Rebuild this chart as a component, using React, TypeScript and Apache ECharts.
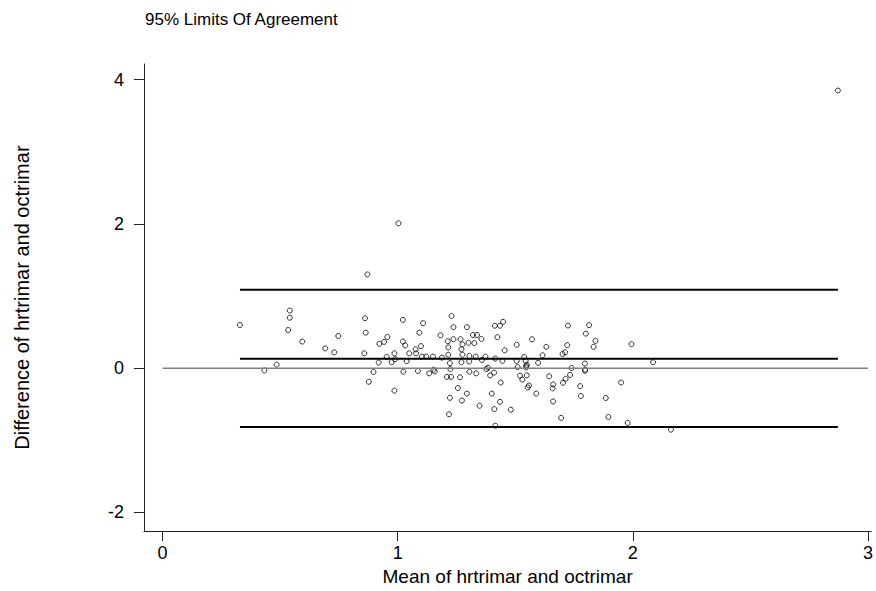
import React, { useEffect, useRef } from "react";
import * as echarts from "echarts";

// Mean of hrtrimar and octrimar (x) and their difference (y)
const meanValues: number[] = [
  0.329, 0.541, 0.541, 0.534, 0.594, 0.485, 0.433,
  0.871, 0.692, 0.730, 0.747, 0.861, 0.864, 0.858, 0.877, 0.897, 0.919,
  0.922, 0.942, 0.956, 0.953, 0.974, 0.986, 0.989, 0.986, 1.022, 1.022,
  1.032, 1.038, 1.024, 1.049, 1.076, 1.078, 1.086, 1.099, 1.092, 1.108,
  1.103, 1.121, 1.134, 1.150, 1.152, 1.157, 1.182, 1.188, 1.209, 1.213,
  1.215, 1.215, 1.222, 1.224, 1.227, 1.229, 1.237, 1.237, 1.222, 1.218,
  1.256, 1.265, 1.267, 1.275, 1.271, 1.275, 1.271, 1.273, 1.294, 1.294,
  1.301, 1.305, 1.305, 1.304, 1.320, 1.326, 1.332, 1.337, 1.334, 1.348,
  1.356, 1.358, 1.373, 1.377, 1.384, 1.400, 1.411, 1.410, 1.413, 1.415,
  1.415, 1.424,
  1.435, 1.448, 1.455, 1.506, 1.571, 1.632, 1.616, 1.597, 1.538, 1.544,
  1.549, 1.547, 1.546, 1.510, 1.506, 1.445, 1.393, 1.438, 1.435, 1.481,
  1.724, 1.814, 1.800, 1.841, 1.833, 1.721, 1.712, 1.701, 1.796, 1.797,
  1.797, 1.739, 1.733, 1.714, 1.703, 1.776, 1.779, 1.695, 1.661, 1.659,
  1.661, 1.644, 1.589, 1.558, 1.553, 1.530, 1.520, 1.549, 1.885, 1.896,
  1.978, 2.162, 1.950, 2.086, 1.994, 1.003, 2.872,
];

const diffValues: number[] = [
  0.60, 0.80, 0.70, 0.53, 0.37, 0.05, -0.03,
  1.30, 0.275, 0.22, 0.447, 0.693, 0.493, 0.207, -0.188, -0.052, 0.079,
  0.338, 0.365, 0.434, 0.157, 0.084, 0.207, 0.125, -0.311, 0.67, 0.37,
  0.316, 0.098, -0.048, 0.207, 0.262, 0.207, -0.038, 0.307, 0.493, 0.624,
  0.161, 0.161, -0.071, 0.161, -0.02, -0.044, 0.457, 0.147, -0.12, 0.375,
  0.289, 0.188, 0.071, -0.011, -0.12, 0.725, 0.57, 0.402, -0.41, -0.638,
  -0.275, -0.125, 0.402, 0.33, 0.262, 0.188, 0.084, -0.447, 0.57, -0.352,
  0.352, 0.17, -0.048, 0.093, 0.461, 0.348, 0.161, 0.461, -0.071, -0.52,
  0.406, 0.116, 0.161, -0.011, 0.007, -0.352, -0.566, -0.061, 0.589, 0.134,
  -0.797, 0.43,
  0.589, 0.643, 0.248, 0.325, 0.402, 0.297, 0.18, 0.075, 0.157, 0.102,
  0.048, 0.011, 0.03, 0.016, 0.102, 0.102, -0.10, -0.198, -0.466, -0.575,
  0.592, 0.597, 0.48, 0.379, 0.297, 0.32, 0.221, 0.198, 0.065, -0.02,
  -0.035, 0.003, -0.093, -0.147, -0.202, -0.248, -0.384, -0.688, -0.461, -0.279,
  -0.225, -0.111, -0.352, -0.239, -0.266, -0.157, -0.102, -0.098, -0.412, -0.675,
  -0.757, -0.852, -0.198, 0.084, 0.334, 2.01, 3.85,
];

// Limits of agreement: mean difference and 95% limits
const meanDifference = 0.13;
const upperLimit = 1.088;
const lowerLimit = -0.815;

const xTicks: number[] = [0, 1, 2, 3];
const yTicks: number[] = [-2, 0, 2, 4];

const titleText = "95% Limits Of Agreement";
const xName = "Mean of hrtrimar and octrimar";
const yName = "Difference of hrtrimar and octrimar";

const FONT = "'Liberation Sans', Arial, Helvetica, sans-serif";

export default function App() {
  const ref = useRef<HTMLDivElement>(null);

  useEffect(() => {
    if (!ref.current) return;
    const chart = echarts.init(ref.current, undefined, { renderer: "svg" });

    const points = meanValues.map((m, i) => [m, diffValues[i]]);
    const xMin = Math.min(...meanValues);
    const xMax = Math.max(...meanValues);
    const hLine = (v: number) => [
      [xMin, v],
      [xMax, v],
    ];

    chart.setOption({
      animation: false,
      backgroundColor: "#ffffff",
      textStyle: { fontFamily: FONT },
      title: {
        text: titleText,
        left: 145,
        top: 11,
        padding: 0,
        textStyle: { fontFamily: FONT, fontSize: 17, fontWeight: "normal", color: "#000" },
      },
      grid: { left: 144, right: 3, top: 64, bottom: 52 },
      xAxis: {
        type: "value",
        min: -0.079,
        max: 3.014,
        name: xName,
        nameLocation: "middle",
        nameGap: 30,
        nameTextStyle: { fontFamily: FONT, fontSize: 19, color: "#000" },
        splitLine: { show: false },
        axisLine: { show: true, onZero: false, lineStyle: { color: "#222", width: 1 } },
        axisTick: { show: true, length: 10, customValues: xTicks, lineStyle: { color: "#222" } },
        axisLabel: { customValues: xTicks, fontSize: 18, color: "#000", margin: 13, fontFamily: FONT },
      },
      yAxis: {
        type: "value",
        min: -2.258,
        max: 4.218,
        name: yName,
        nameLocation: "middle",
        nameGap: 112,
        nameRotate: 90,
        nameTextStyle: { fontFamily: FONT, fontSize: 20, color: "#000" },
        splitLine: { show: false },
        axisLine: { show: true, onZero: false, lineStyle: { color: "#222", width: 1 } },
        axisTick: { show: true, length: 10, customValues: yTicks, lineStyle: { color: "#222" } },
        axisLabel: { customValues: yTicks, fontSize: 18, color: "#000", margin: 20, fontFamily: FONT },
      },
      series: [
        {
          name: "zero",
          type: "line",
          data: [
            [xTicks[0], 0],
            [xTicks[xTicks.length - 1], 0],
          ],
          symbol: "none",
          lineStyle: { color: "#808080", width: 1.5 },
          silent: true,
        },
        {
          name: "upper",
          type: "line",
          data: hLine(upperLimit),
          symbol: "none",
          lineStyle: { color: "#000", width: 2 },
          silent: true,
        },
        {
          name: "mean",
          type: "line",
          data: hLine(meanDifference),
          symbol: "none",
          lineStyle: { color: "#000", width: 2 },
          silent: true,
        },
        {
          name: "lower",
          type: "line",
          data: hLine(lowerLimit),
          symbol: "none",
          lineStyle: { color: "#000", width: 2 },
          silent: true,
        },
        {
          name: "points",
          type: "scatter",
          data: points,
          symbol: "circle",
          symbolSize: 5,
          itemStyle: { color: "transparent", borderColor: "#000", borderWidth: 1 },
        },
      ],
    });

    return () => chart.dispose();
  }, []);

  return <div ref={ref} style={{ width: 876, height: 591, position: "absolute", left: 0, top: 0 }} />;
}
